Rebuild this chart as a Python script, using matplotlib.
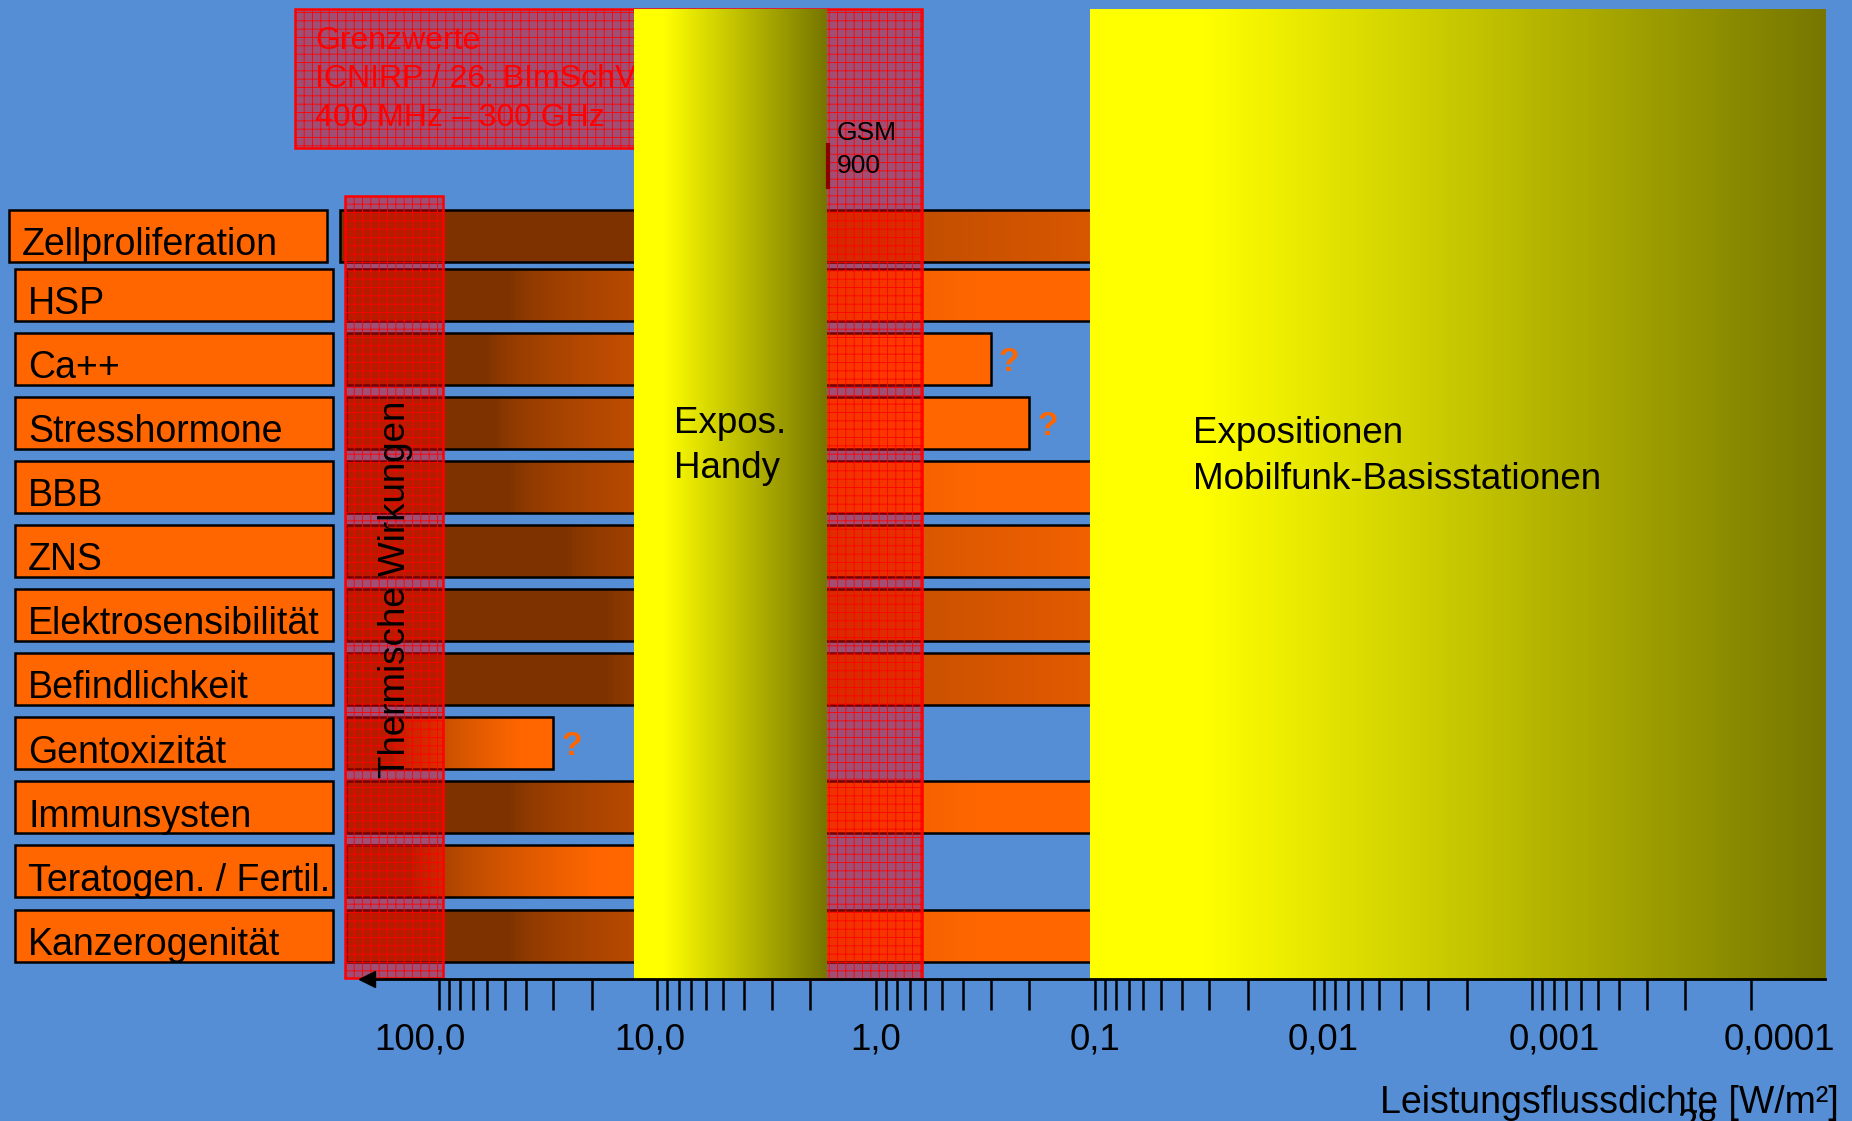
import numpy as np
import matplotlib
matplotlib.use("Agg")
import matplotlib.pyplot as plt
from matplotlib.patches import Rectangle, Polygon
from matplotlib.ticker import FixedLocator, NullFormatter
import matplotlib.transforms as mtransforms

plt.rcParams['font.family'] = ['Liberation Sans', 'DejaVu Sans']
plt.rcParams['hatch.linewidth'] = 0.6

# ---------------- data ----------------
categories = ["Zellproliferation", "HSP", "Ca++", "Stresshormone", "BBB", "ZNS",
              "Elektrosensibilität", "Befindlichkeit", "Gentoxizität", "Immunsysten",
              "Teratogen. / Fertil.", "Kanzerogenität"]
bar_start = [282, 265, 265, 265, 265, 265, 265, 265, 265, 265, 265, 265]          # W/m²
bar_end = [2.6e-4, 0.1, 0.3, 0.2, 0.1, 0.0067, 0.001, 0.001, 30, 0.1, 11.5, 0.1]  # W/m²
uncertain = [False, False, True, True, False, False, False, False, True, False, False, False]

tick_values = [100, 10, 1, 0.1, 0.01, 0.001, 0.0001]
tick_labels = ["100,0", "10,0", "1,0", "0,1", "0,01", "0,001", "0,0001"]

handy_range = [12.8, 1.7]          # Expos. Handy
basis_range = [0.105, 4.6e-5]      # Expositionen Mobilfunk-Basisstationen
thermal_range = [268, 95.6]        # Thermische Wirkungen
limit_column = [4.55, 0.615]       # Grenzwert column
limit_box_left = 453
gsm900 = 1.66
axis_range = [212, 4.6e-5]

# ---------------- style / layout ----------------
BG = '#558ED5'
ORANGE = np.array([255, 102, 0]) / 255
BROWN = np.array([125, 50, 0]) / 255
YELLOW = np.array([255, 255, 0]) / 255
OLIVE = np.array([118, 118, 0]) / 255
RED_FILL = (1, 0, 0, 0.45)
TICK_LABEL_SHIFT_PX = [-19, -8, -1, 0, 9, 22, 28]

W, H = 1852, 1121
fig = plt.figure(figsize=(W / 100, H / 100), dpi=100)
fig.patch.set_facecolor(BG)
ax = fig.add_axes([0, 0, 1, 1])
ax.set_facecolor(BG)
ax.set_xscale('log')
ax.set_xlim(10125, 3.458e-5)
ax.set_ylim(13.894, -3.599)
ax.set_autoscale_on(False)

H_BAR = 0.811
Y_TOP = -3.452
Y_BOX = -1.295
Y_AXIS = 11.682
Y_THERM_TOP = -0.539
Y_THERM_BOT = 11.664

rows = np.arange(len(categories), dtype=float)
rows[0] += 0.088   # first row sits slightly lower on the slide


def gradient_rect(x0, x1, y0, h, c0, c1, shape, n=240, zorder=2):
    xs = np.geomspace(x0, x1, n + 1)
    s = (np.arange(n) + 0.5) / n
    t = shape(s)[:, None]
    cols = (1 - t) * c0 + t * c1
    ax.broken_barh(list(zip(xs[:-1], np.diff(xs))), (y0, h), facecolors=cols,
                   edgecolors=cols, linewidth=0.6, antialiased=False, zorder=zorder)


bar_shape = lambda s: np.clip((s - 0.22) / 0.63, 0, 1) ** 0.6
yel_shape = lambda s: np.clip((s - 0.15) / 0.85, 0, 1)

inv_axes = ax.transAxes.inverted()


def to_axes_x(v):
    return inv_axes.transform(ax.transData.transform((v, 0)))[0]


blend = mtransforms.blended_transform_factory(ax.transAxes, ax.transData)
px = 1.0 / W

for yc, cat, x0, x1, q in zip(rows, categories, bar_start, bar_end, uncertain):
    y0 = yc - H_BAR / 2
    gradient_rect(x0, x1, y0, H_BAR, BROWN, ORANGE, bar_shape, zorder=2)
    ax.add_patch(Rectangle((x1, y0), x0 - x1, H_BAR, facecolor='none',
                           edgecolor='black', lw=1.8, zorder=2.2))
    # label box to the left of the bar
    right = to_axes_x(x0) - 13 * px
    left = right - 318 * px
    ax.add_patch(Rectangle((left, y0), right - left, H_BAR, transform=blend,
                           facecolor='#FF6600', edgecolor='black', lw=1.8, zorder=2.2))
    ax.text(left + 13 * px, yc + 0.30, cat, transform=blend, ha='left', va='baseline',
            fontsize=27, color='black', zorder=2.3)
    if q:
        tr = mtransforms.offset_copy(ax.transData, fig=fig, x=8, y=0, units='dots')
        ax.text(x1, yc + 0.05, '?', transform=tr, ha='left', va='center',
                fontsize=24, fontweight='bold', color='#FF6600', zorder=5)

# Thermische Wirkungen column
ax.add_patch(Rectangle((thermal_range[1], Y_THERM_TOP), thermal_range[0] - thermal_range[1],
                       Y_THERM_BOT - Y_THERM_TOP, facecolor=RED_FILL, edgecolor='red',
                       hatch='++', lw=1.8, zorder=3))
ax.text(np.sqrt(thermal_range[0] * thermal_range[1]) * 0.985, 5.599, 'Thermische Wirkungen',
        rotation=90, ha='center', va='center', fontsize=26.5, color='black', zorder=3.5)

# Grenzwerte box + column
poly = [(limit_box_left, Y_TOP), (limit_column[1], Y_TOP), (limit_column[1], Y_AXIS),
        (limit_column[0], Y_AXIS), (limit_column[0], Y_BOX), (limit_box_left, Y_BOX)]
ax.add_patch(Polygon(poly, closed=True, facecolor=RED_FILL, edgecolor='red',
                     hatch='++', lw=1.8, zorder=3))
tr = mtransforms.offset_copy(ax.transData, fig=fig, x=20, y=0, units='dots')
ax.text(limit_box_left, -2.36, 'Grenzwerte\nICNIRP / 26. BImSchV\n400 MHz – 300 GHz',
        transform=tr, ha='left', va='center', fontsize=23, color='red',
        linespacing=1.37, zorder=3.5)

# exposure areas (yellow gradients)
gradient_rect(handy_range[0], handy_range[1], Y_TOP, Y_AXIS - Y_TOP, YELLOW, OLIVE,
              yel_shape, zorder=4)
gradient_rect(basis_range[0], basis_range[1], Y_TOP, Y_AXIS - Y_TOP, YELLOW, OLIVE,
              yel_shape, zorder=4)
tr = mtransforms.offset_copy(ax.transData, fig=fig, x=40, y=0, units='dots')
ax.text(handy_range[0], 3.36, 'Expos.\nHandy', transform=tr, ha='left', va='center',
        fontsize=26.5, linespacing=1.4, zorder=5)
tr = mtransforms.offset_copy(ax.transData, fig=fig, x=103, y=0, units='dots')
ax.text(basis_range[0], 3.53, 'Expositionen\nMobilfunk-Basisstationen', transform=tr,
        ha='left', va='center', fontsize=26.5, linespacing=1.4, zorder=5)

# GSM 900 marker
ax.plot([gsm900, gsm900], [-1.369, -0.650], color='#8B0000', lw=3, zorder=5,
        solid_capstyle='butt')
tr = mtransforms.offset_copy(ax.transData, fig=fig, x=9, y=0, units='dots')
ax.text(gsm900, -1.27, 'GSM\n900', transform=tr, ha='left', va='center', fontsize=19,
        linespacing=1.45, zorder=5)

# axis
for sp in ['top', 'left', 'right']:
    ax.spines[sp].set_visible(False)
ax.spines['bottom'].set_position(('data', Y_AXIS))
ax.spines['bottom'].set_bounds(axis_range[1], axis_range[0])
ax.spines['bottom'].set_linewidth(2)
ax.spines['bottom'].set_zorder(6)
ax.yaxis.set_visible(False)
ax.set_xticks(tick_values, tick_labels)
minor_vals = [k * 10.0 ** n for n in range(-4, 2) for k in range(2, 10)]
ax.xaxis.set_minor_locator(FixedLocator(minor_vals))
ax.xaxis.set_minor_formatter(NullFormatter())
ax.tick_params(axis='x', which='both', direction='out', length=22, width=1.8,
               color='black', labelsize=26.5, pad=9)
for lab, dx in zip(ax.get_xticklabels(), TICK_LABEL_SHIFT_PX):
    lab.set_transform(lab.get_transform() + mtransforms.Affine2D().translate(dx, 0))
ax.plot([axis_range[0]], [Y_AXIS], marker='<', ms=12, color='black', clip_on=False,
        zorder=6)

fig.text(1557 / 1568, 1 - 942 / 949, 'Leistungsflussdichte [W/m²]', ha='right',
         va='baseline', fontsize=27)
fig.text(1437 / 1568, 1 - 938 / 949, '28', ha='center', va='top', fontsize=26)

fig.savefig('out.png', dpi=100, facecolor=BG)
